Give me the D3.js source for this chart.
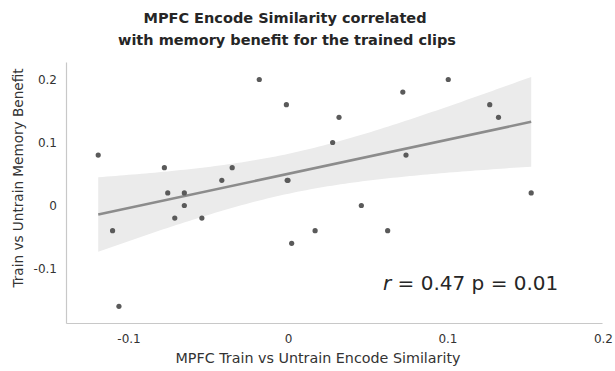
<!DOCTYPE html>
<html>
<head>
<meta charset="utf-8">
<script src="https://cdn.jsdelivr.net/npm/d3@7"></script>
<style>
  html, body { margin: 0; padding: 0; background: #ffffff; }
  svg { display: block; }
</style>
</head>
<body>
<script>
// ---- data ----
const xValues = [-0.119, -0.110, -0.106, -0.0775, -0.0754, -0.065, -0.065, -0.071, -0.054, -0.0415, -0.035, -0.018,
                 -0.001, 0.0, 0.0023, 0.017, 0.028, 0.032, 0.046, 0.0625, 0.072, 0.074, 0.1005, 0.1265, 0.132, 0.1525, -0.0005];
const yValues = [0.08, -0.04, -0.16, 0.06, 0.02, 0.02, 0.0, -0.02, -0.02, 0.04, 0.06, 0.20,
                 0.16, 0.04, -0.06, -0.04, 0.10, 0.14, 0.0, -0.04, 0.18, 0.08, 0.20, 0.16, 0.14, 0.02, 0.04];
const xTicks = [-0.1, 0, 0.1, 0.2];
const xTickLabels = ["-0.1", "0", "0.1", "0.2"];
const yTicks = [-0.1, 0, 0.1, 0.2];
const yTickLabels = ["-0.1", "0", "0.1", "0.2"];
const titleLines = ["MPFC Encode Similarity correlated", "with memory benefit for the trained clips"];
const xLabel = "MPFC Train vs Untrain Encode Similarity";
const yLabel = "Train vs Untrain Memory Benefit";
const statR = "0.47";
const statP = "0.01";

// ---- layout ----
const W = 615, H = 371;
const svg = d3.select("body").append("svg").attr("width", W).attr("height", H)
  .style("font-family", "'DejaVu Sans', sans-serif");

const x = d3.scaleLinear().domain([-0.1392, 0.1969]).range([66, 602]);
const y = d3.scaleLinear().domain([-0.1865, 0.2278]).range([323, 62]);

// ---- regression + 95% CI ----
const n = xValues.length;
const xm = d3.mean(xValues), ym = d3.mean(yValues);
let sxx = 0, sxy = 0;
for (let i = 0; i < n; i++) { sxx += (xValues[i]-xm)**2; sxy += (xValues[i]-xm)*(yValues[i]-ym); }
const slope = sxy / sxx, icpt = ym - slope * xm;
let sse = 0;
for (let i = 0; i < n; i++) { sse += (yValues[i] - (icpt + slope*xValues[i]))**2; }
const s = Math.sqrt(sse / (n - 2));
const tcrit = 2.06;
const xmin = d3.min(xValues), xmax = d3.max(xValues);
const grid = d3.range(0, 101).map(i => xmin + (xmax - xmin) * i / 100);
const band = grid.map(xx => {
  const yh = icpt + slope * xx;
  const se = s * Math.sqrt(1/n + (xx - xm)**2 / sxx);
  return {x: xx, lo: yh - tcrit*se, hi: yh + tcrit*se, yh};
});

svg.append("path").datum(band)
  .attr("d", d3.area().x(d => x(d.x)).y0(d => y(d.lo)).y1(d => y(d.hi)))
  .attr("fill", "#ebebeb");

// ---- axes (spines only) ----
const gx = svg.append("g").attr("transform", `translate(0,323)`)
  .call(d3.axisBottom(x).tickValues(xTicks).tickFormat((d,i) => xTickLabels[i]).tickSize(0).tickPadding(11));
gx.select(".domain").attr("stroke", "#c8c8c8").attr("stroke-width", 1.2);
gx.selectAll("text").attr("font-size", 12).attr("fill", "#333").attr("font-family", "'DejaVu Sans', sans-serif")
  .attr("dx", (d) => d === 0.2 ? -4 : 0);

const gy = svg.append("g").attr("transform", `translate(66,0)`)
  .call(d3.axisLeft(y).tickValues(yTicks).tickFormat((d,i) => yTickLabels[i]).tickSize(0).tickPadding(9));
gy.select(".domain").attr("stroke", "#c8c8c8").attr("stroke-width", 1.2);
gy.selectAll("text").attr("font-size", 12).attr("fill", "#333").attr("font-family", "'DejaVu Sans', sans-serif");

// ---- regression line ----
svg.append("line")
  .attr("x1", x(xmin)).attr("y1", y(icpt + slope*xmin))
  .attr("x2", x(xmax)).attr("y2", y(icpt + slope*xmax))
  .attr("stroke", "#8c8c8c").attr("stroke-width", 2.6);

// ---- points ----
svg.append("g").selectAll("circle").data(d3.range(n)).join("circle")
  .attr("cx", i => x(xValues[i])).attr("cy", i => y(yValues[i])).attr("r", 2.6)
  .attr("fill", "#5a5a5a");

// ---- title ----
svg.append("text").attr("x", 285).attr("y", 23).attr("text-anchor", "middle")
  .attr("font-size", 14.5).attr("font-weight", "bold").attr("fill", "#262626").text(titleLines[0]);
svg.append("text").attr("x", 287).attr("y", 45).attr("text-anchor", "middle")
  .attr("font-size", 14.5).attr("font-weight", "bold").attr("fill", "#262626").text(titleLines[1]);

// ---- axis labels ----
svg.append("text").attr("x", 318).attr("y", 363).attr("text-anchor", "middle")
  .attr("font-size", 14.3).attr("fill", "#333").text(xLabel);
svg.append("text").attr("transform", "translate(23,178) rotate(-90)").attr("text-anchor", "middle")
  .attr("font-size", 13.6).attr("fill", "#333").text(yLabel);

// ---- annotation ----
const ann = svg.append("text").attr("x", 383).attr("y", 290).attr("font-size", 20).attr("fill", "#262626");
ann.append("tspan").attr("font-style", "italic").text("r");
ann.append("tspan").text(` = ${statR} p = ${statP}`);
</script>
</body>
</html>
